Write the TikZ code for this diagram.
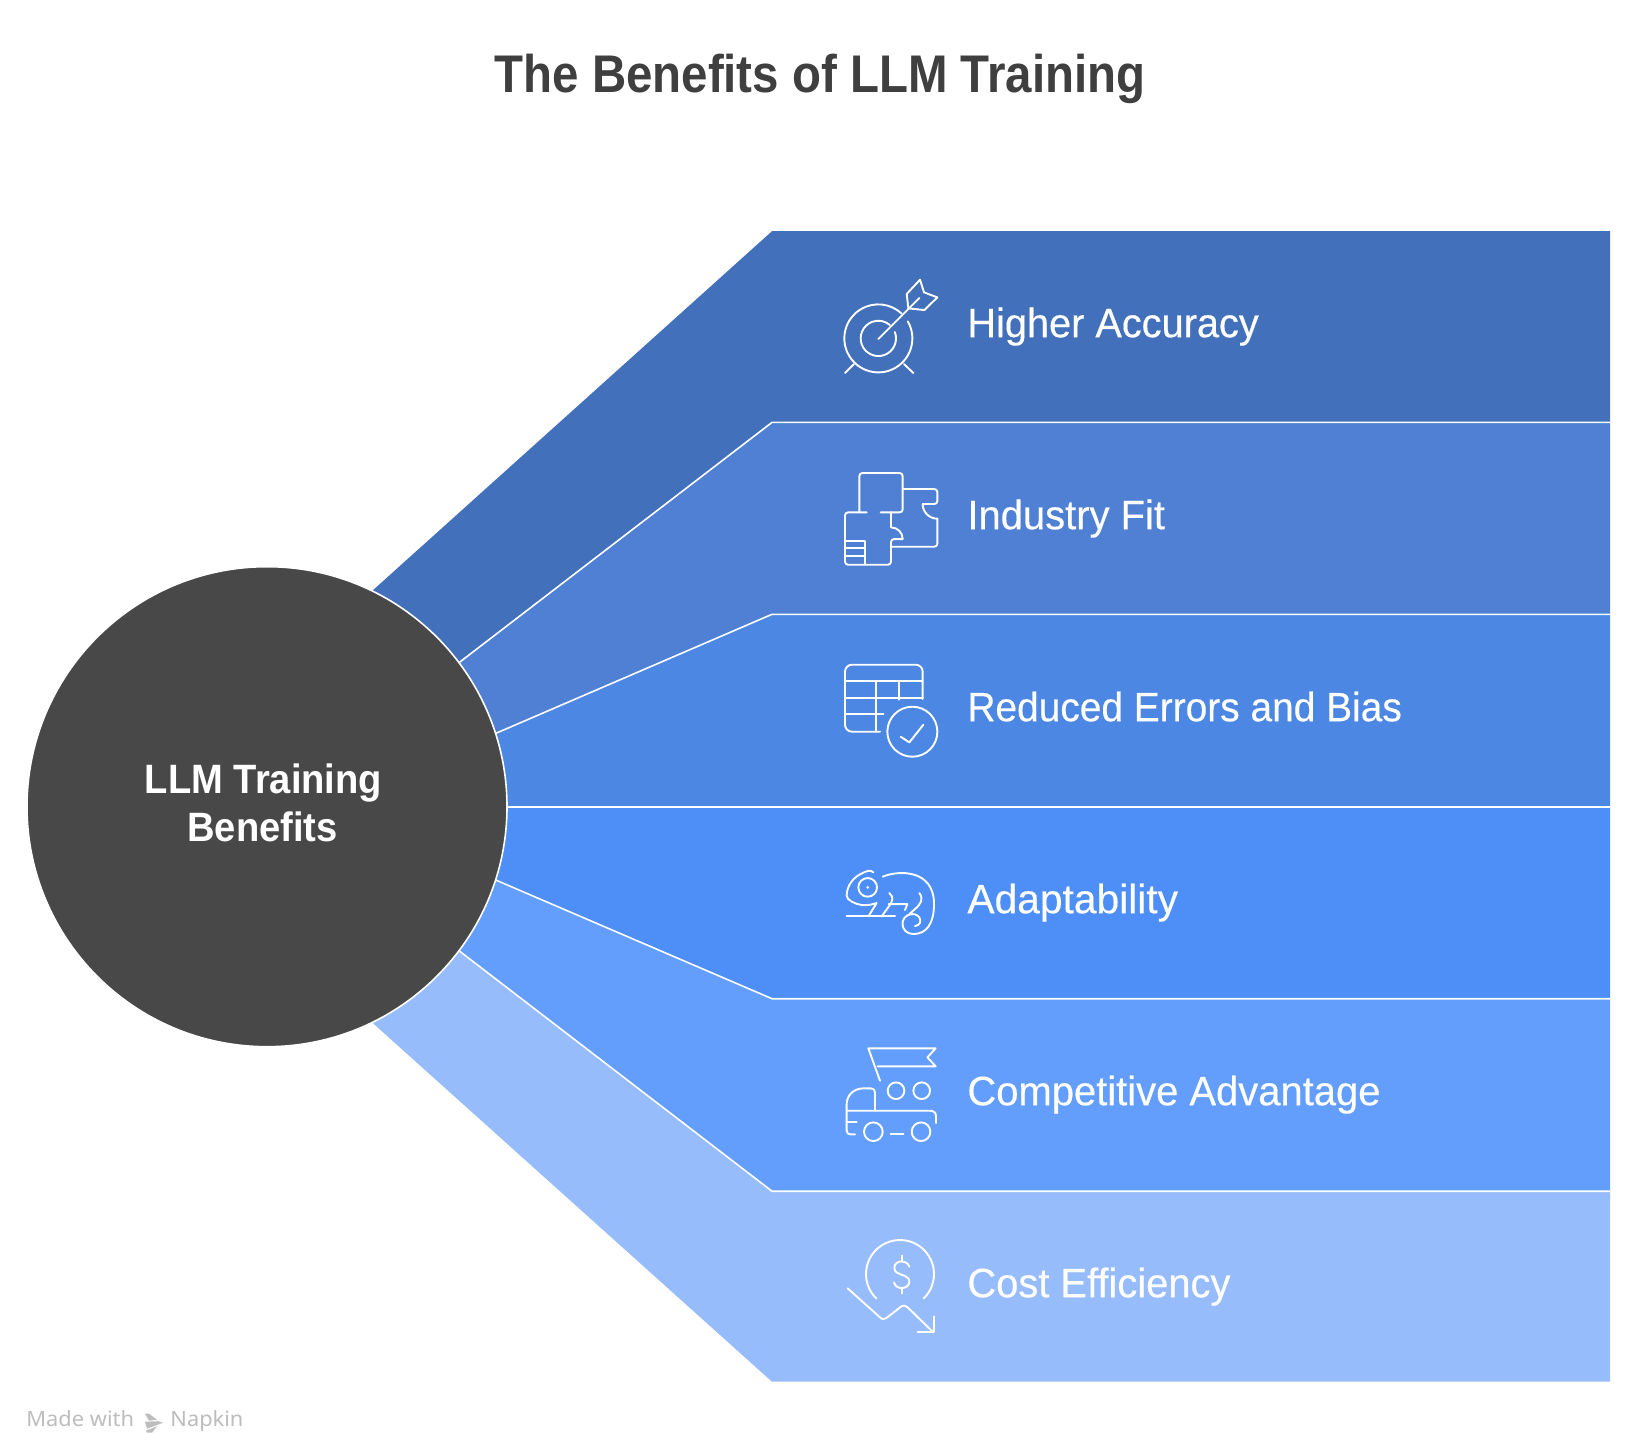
\documentclass[tikz,border=0pt]{standalone}
\usepackage{fontspec}
\usepackage{graphicx}
\setmainfont{Liberation Sans}
\newfontfamily\titlefont[FakeStretch=0.895]{Liberation Sans}
\newfontfamily\hubfont[FakeStretch=0.93]{Liberation Sans}
\newfontfamily\labelfont[FakeStretch=0.965,FakeBold=0.3]{Liberation Sans}
\newfontfamily\markfont[FakeStretch=1.04]{Noto Sans}
\usetikzlibrary{calc}
\definecolor{bandA}{HTML}{4270BB}
\definecolor{bandB}{HTML}{4F80D4}
\definecolor{bandC}{HTML}{4C87E4}
\definecolor{bandD}{HTML}{4D8EF7}
\definecolor{bandE}{HTML}{639EFD}
\definecolor{bandF}{HTML}{97BCFC}
\definecolor{hub}{HTML}{484848}
\definecolor{titlegrey}{HTML}{3F3F3F}
\definecolor{markgrey}{HTML}{BDBDBD}
\tikzset{
  x=0.5pt,y=-0.5pt,
  sep/.style={draw=white,line width=0.8pt},
  icon/.style={draw=white,line width=0.95pt,line cap=round,line join=round,fill=none},
  bandlabel/.style={anchor=base west,inner sep=0pt,text=white,font=\labelfont\fontsize{20.5}{24}\selectfont},
  hubtext/.style={anchor=base,inner sep=0pt,text=white,font=\hubfont\bfseries\fontsize{20.5}{24}\selectfont},
  marktext/.style={anchor=base west,inner sep=0pt,text=markgrey,font=\markfont\fontsize{10.5}{13}\selectfont}
}
\begin{document}
\begin{tikzpicture}
\useasboundingbox (0,-0.7) rectangle (1649,1432.3);
\fill[white] (0,-0.7) rectangle (1649,1432.3);
\coordinate (hubc) at (267,806);
% bands
\fill[bandA] (hubc) -- (373.5,589) -- (772,230.5) -- (1610,230.5) -- (1610,421.7) -- (772,421.7) -- (459.6,661.5) -- cycle;
\fill[bandB] (hubc) -- (459.6,661.5) -- (772,421.7) -- (1610,421.7) -- (1610,613.6) -- (772,613.6) -- (495,733) -- cycle;
\fill[bandC] (hubc) -- (495,733) -- (772,613.6) -- (1610,613.6) -- (1610,806) -- (507,806) -- cycle;
\fill[bandD] (hubc) -- (507,806) -- (1610,806) -- (1610,998) -- (772,998) -- (495,879) -- cycle;
\fill[bandE] (hubc) -- (495,879) -- (772,998) -- (1610,998) -- (1610,1190.5) -- (772,1190.5) -- (459.6,950.5) -- cycle;
\fill[bandF] (hubc) -- (459.6,950.5) -- (772,1190.5) -- (1610,1190.5) -- (1610,1381) -- (772,1381) -- (373.5,1023) -- cycle;
\draw[sep] (459.6,661.5) -- (772,421.7) -- (1610,421.7);
\draw[sep] (495,733) -- (772,613.6) -- (1610,613.6);
\draw[sep] (507,806) -- (1610,806);
\draw[sep] (495,879) -- (772,998) -- (1610,998);
\draw[sep] (459.6,950.5) -- (772,1190.5) -- (1610,1190.5);
% hub
\node[circle,fill=hub,draw=white,line width=0.8pt,minimum size=240pt,inner sep=0pt] (hubnode) at (hubc) {};
\node[hubtext] (hubA) at (263.5,793) {LLM Training};
\node[hubtext] (hubB) at (262.5,841) {Benefits};
% title
\node[anchor=base,inner sep=0pt,text=titlegrey,font=\titlefont\bfseries\fontsize{26.5}{30}\selectfont] (title) at (820,91.5) {The Benefits of LLM Training};
% labels
\node[bandlabel] (l1) at (967,336.5) {\scalebox{1.004}[1]{Higher Accuracy}};
\node[bandlabel] (l2) at (967,528.5) {\scalebox{1.01}[1]{Industry Fit}};
\node[bandlabel] (l3) at (967,720.5) {\scalebox{0.983}[1]{Reduced Errors and Bias}};
\node[bandlabel] (l4) at (967,912.5) {\scalebox{1.03}[1]{Adaptability}};
\node[bandlabel] (l5) at (967,1104.5) {\scalebox{1.01}[1]{Competitive Advantage}};
\node[bandlabel] (l6) at (967,1296.5) {\scalebox{1.008}[1]{Cost Efficiency}};
% icon 1 target
\begin{scope}[shift={(830,265)},x=0.1667pt,y=-0.1667pt]
\draw[icon] (145,218)+(-30:102) arc[start angle=-30,end angle=313,radius=102];
\draw[icon] (145,218)+(-21:53) arc[start angle=-21,end angle=311,radius=53];
\draw[icon] (145,220) -- (268,97);
\draw[icon] (235,128) -- (230,85) -- (270,42) -- (282,80) -- (322,95) -- (283,133) -- cycle;
\draw[icon] (72,295) -- (45,322);
\draw[icon] (222,295) -- (250,322);
\end{scope}
% icon 2 puzzle plan
\begin{scope}[shift={(830,460)},x=0.1667pt,y=-0.1667pt]
\draw[icon,rounded corners=1.5pt] (88,155) -- (88,37) -- (218,37) -- (218,155) -- (152,155);
\draw[icon,rounded corners=1.5pt] (110,155) -- (45,155) -- (45,312) -- (183,312) -- (183,235) -- (218,235);
\draw[icon] (218,235) arc[start angle=0,end angle=-90,radius=35] -- (183,155);
\draw[icon,rounded corners=1.5pt] (218,85) -- (322,85) -- (322,130) -- (278,130);
\draw[icon] (278,130) arc[start angle=180,end angle=90,radius=44];
\draw[icon,rounded corners=1.5pt] (322,174) -- (322,258) -- (183,258);
\draw[icon] (45,240) -- (105,240) -- (105,312);
\draw[icon] (45,263) -- (105,263);
\draw[icon] (45,287) -- (105,287);
\end{scope}
% icon 3 table
\begin{scope}[shift={(830,650)},x=0.1667pt,y=-0.1667pt]
\draw[icon,rounded corners=3.5pt] (150,243) -- (45,243) -- (45,42) -- (278,42) -- (278,145);
\draw[icon] (45,90) -- (278,90);
\draw[icon] (45,143) -- (278,143);
\draw[icon] (45,190) -- (160,190);
\draw[icon] (138,90) -- (138,243);
\draw[icon] (208,90) -- (208,147);
\draw[icon] (247,243) circle[radius=75];
\draw[icon] (212,258) -- (238,275) -- (280,222);
\end{scope}
% icon 4 chameleon
\begin{scope}[shift={(830,850)},x=0.1667pt,y=-0.1667pt]
\draw[icon] (130,65) .. controls (122,57) and (112,60) .. (100,66) .. controls (70,78) and (50,105) .. (50,135) .. controls (50,148) and (75,160) .. (95,163) .. controls (115,165) and (130,160) .. (140,157) -- (115,197);
\draw[icon] (113,110) circle[radius=28];
\fill[white] (113,110) circle[radius=4.5];
\draw[icon] (50,197) -- (195,197);
\draw[icon] (178,127) .. controls (192,140) and (188,150) .. (178,165) -- (155,197);
\draw[icon] (176,160) -- (232,160) -- (225,178);
\draw[icon] (158,78) .. controls (205,58) and (312,55) .. (312,160) .. controls (312,215) and (292,250) .. (250,250) .. controls (210,250) and (205,195) .. (245,190) .. controls (272,188) and (282,222) .. (255,226);
\draw[icon] (268,127) .. controls (282,145) and (272,160) .. (255,175) -- (238,190);
\end{scope}
% icon 5 truck
\begin{scope}[shift={(830,1035)},x=0.1667pt,y=-0.1667pt]
\draw[icon] (150,135) -- (115,38) -- (317,38) -- (292,65) -- (317,92) -- (143,92);
\draw[icon] (198,165) circle[radius=25];
\draw[icon] (275,165) circle[radius=25];
\draw[icon] (135,225) -- (135,170) .. controls (135,162) and (130,158) .. (122,158) -- (100,158) .. controls (70,158) and (50,180) .. (50,205) -- (50,285) .. controls (50,292) and (55,296) .. (62,296) -- (75,296);
\draw[icon] (50,260) -- (80,260);
\draw[icon] (50,225) -- (300,225) .. controls (312,225) and (318,232) .. (318,242) -- (318,262);
\draw[icon] (130,288) circle[radius=28];
\draw[icon] (273,288) circle[radius=28];
\draw[icon] (182,296) -- (220,296);
\end{scope}
% icon 6 cost
\begin{scope}[shift={(830,1230)},x=0.1667pt,y=-0.1667pt]
\draw[icon] (210,130)+(134:102) arc[start angle=134,end angle=406,radius=102];
\draw[icon] (215,75) -- (215,92);
\draw[icon] (215,172) -- (215,188);
\draw[icon] (238,108) .. controls (234,97) and (225,92) .. (215,92) .. controls (202,92) and (193,100) .. (193,112) .. controls (193,124) and (204,128) .. (215,132) .. controls (228,136) and (238,142) .. (238,152) .. controls (238,164) and (228,172) .. (215,172) .. controls (204,172) and (195,166) .. (192,155);
\draw[icon] (53,173) -- (150,260) .. controls (158,268) and (165,266) .. (172,260) -- (210,230) .. controls (218,223) and (226,223) .. (235,232) -- (310,305);
\draw[icon] (312,257) -- (312,305) -- (263,305);
\end{scope}
% watermark
\node[marktext] (made) at (26,1426) {Made with};
\node[marktext] (napkin) at (170,1426) {Napkin};
\fill[markgrey] (145,1413) -- (149,1413) -- (157,1419) -- (149,1420) -- cycle;
\fill[markgrey] (145,1421) -- (158,1420.5) -- (163,1422) -- (147,1428) -- cycle;
\fill[markgrey] (146,1430) -- (157,1425.5) -- (152,1432) -- (147,1432) -- cycle;
\end{tikzpicture}
\end{document}
